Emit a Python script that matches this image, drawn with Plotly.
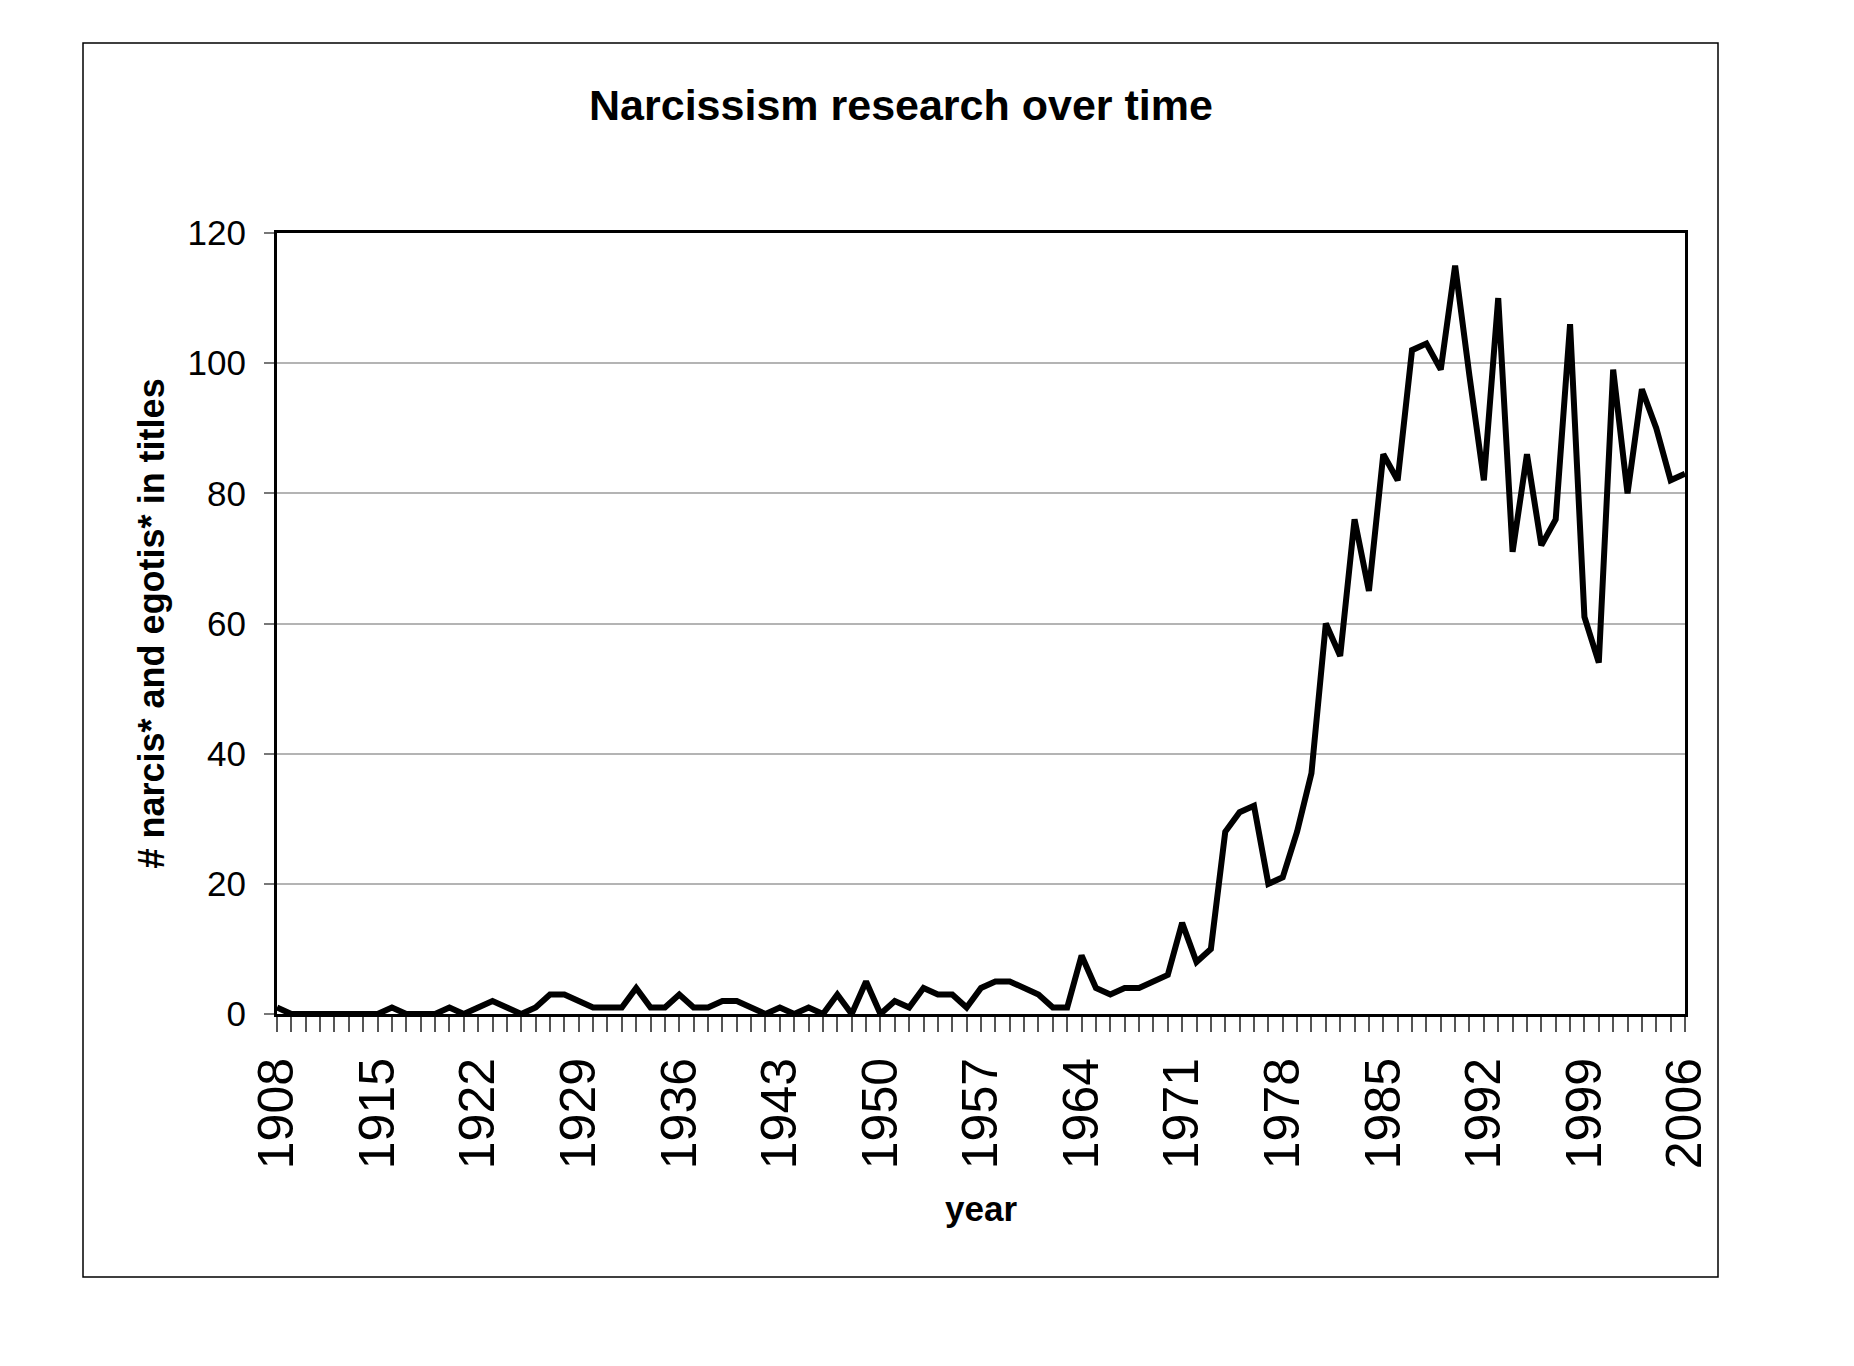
import plotly.graph_objects as go

years = list(range(1908, 2007))
counts = [
    1, 0, 0, 0, 0, 0, 0, 0, 1, 0,   # 1908-1917
    0, 0, 1, 0, 1, 2, 1, 0, 1, 3,   # 1918-1927
    3, 2, 1, 1, 1, 4, 1, 1, 3, 1,   # 1928-1937
    1, 2, 2, 1, 0, 1, 0, 1, 0, 3,   # 1938-1947
    0, 5, 0, 2, 1, 4, 3, 3, 1, 4,   # 1948-1957
    5, 5, 4, 3, 1, 1, 9, 4, 3, 4,   # 1958-1967
    4, 5, 6, 14, 8, 10, 28, 31, 32, 20,  # 1968-1977
    21, 28, 37, 60, 55, 76, 65, 86, 82, 102,  # 1978-1987
    103, 99, 115, 98, 82, 110, 71, 86, 72, 76,  # 1988-1997
    106, 61, 54, 99, 80, 96, 90, 82, 83,  # 1998-2006
]
label_years = list(range(1908, 2007, 7))
y_ticks = [0, 20, 40, 60, 80, 100, 120]

title_text = "Narcissism research over time"
y_title = "# narcis* and egotis* in titles"
x_title = "year"

FONT = "Liberation Sans, Arial, sans-serif"

fig = go.Figure()
fig.add_trace(go.Scatter(
    x=years, y=counts, mode="lines",
    line=dict(color="black", width=6),
    hoverinfo="skip", showlegend=False,
))

fig.update_layout(
    width=1854, height=1366, autosize=False,
    margin=dict(l=269, r=177, t=225, b=360, pad=0),
    paper_bgcolor="white", plot_bgcolor="white",
    font=dict(family=FONT, color="black"),
    showlegend=False,
    title=dict(text=title_text, x=893 / 1854, xref="container", xanchor="center",
               y=1 - 97 / 1366, yref="container", yanchor="middle",
               font=dict(family=FONT, size=43, color="black", weight="bold")),
)

fig.update_xaxes(
    range=[1908, 2006],
    tickmode="array", tickvals=label_years, ticktext=[str(v) for v in label_years],
    tickangle=-90, tickfont=dict(family=FONT, size=50, color="black"),
    ticks="outside", ticklen=15, tickwidth=1.5, tickcolor="#555555",
    ticklabelstandoff=6,
    minor=dict(tickmode="linear", tick0=1908, dtick=1, ticks="outside",
               ticklen=15, tickwidth=1.5, tickcolor="#555555", showgrid=False),
    showgrid=False, zeroline=False,
    showline=True, linecolor="black", linewidth=3, mirror=True,
)
fig.update_yaxes(
    range=[0, 120], tickmode="array", tickvals=y_ticks,
    tickfont=dict(family=FONT, size=35, color="black"),
    ticks="outside", ticklen=10, tickwidth=1.5, tickcolor="#777777",
    ticklabelstandoff=11,
    showgrid=True, gridcolor="#b4b4b4", gridwidth=1.5,
    zeroline=False,
    showline=True, linecolor="black", linewidth=3, mirror=True,
)

fig.add_annotation(
    text="<b>" + y_title + "</b>", xref="paper", yref="paper",
    x=(151 - 277) / 1408, y=0.5, xanchor="center", yanchor="middle",
    textangle=-90, showarrow=False,
    font=dict(family=FONT, size=36, color="black"),
)
fig.add_annotation(
    text="<b>" + x_title + "</b>", xref="paper", yref="paper",
    x=(981 - 277) / 1408, y=(1014 - 1208) / 781, xanchor="center", yanchor="middle",
    showarrow=False,
    font=dict(family=FONT, size=35, color="black"),
)

# outer chart-area frame
fig.add_shape(
    type="rect", xref="paper", yref="paper",
    x0=(83 - 277) / 1408, x1=(1718 - 277) / 1408,
    y0=(1014 - 1277) / 781, y1=(1014 - 43) / 781,
    line=dict(color="black", width=1.5), fillcolor="rgba(0,0,0,0)", layer="below",
)

fig.write_html("out.html", config={"displayModeBar": False})
